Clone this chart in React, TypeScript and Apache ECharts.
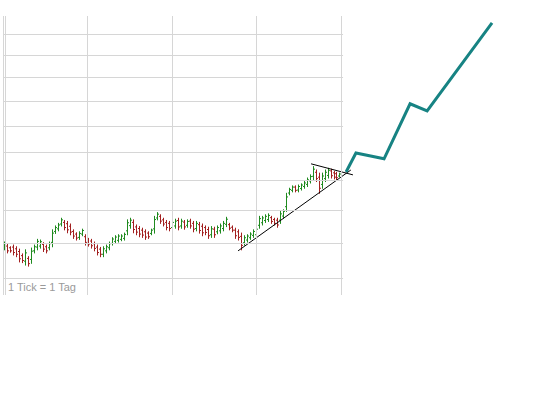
import React, { useEffect, useRef } from "react";
import * as echarts from "echarts";

// OHLC bars, one per day (1 Tick = 1 Tag)
const highs = [
  13.03, 12.96, 12.89, 12.94, 12.89, 12.82, 12.68, 12.8, 12.6, 12.85,
  12.94, 13.11, 13.09, 13.01, 12.94, 13.03, 13.4, 13.52, 13.6, 13.76,
  13.69, 13.66, 13.58, 13.4, 13.31, 13.34, 13.42, 13.25, 13.14, 13.11,
  13.03, 12.94, 12.87, 12.89, 12.94, 13.03, 13.16, 13.22, 13.25, 13.25,
  13.3, 13.71, 13.76, 13.71, 13.55, 13.5, 13.45, 13.4, 13.34, 13.42,
  13.82, 13.94, 13.87, 13.76, 13.69, 13.66, 13.69, 13.73, 13.76, 13.73,
  13.69, 13.71, 13.73, 13.66, 13.66, 13.63, 13.58, 13.52, 13.48, 13.5,
  13.48, 13.52, 13.58, 13.66, 13.79, 13.6, 13.52, 13.45, 13.4, 13.3,
  13.22, 13.25, 13.31, 13.4, 13.48, 13.82, 13.82, 13.87, 13.9, 13.82,
  13.76, 13.76, 13.98, 14.03, 14.57, 14.74, 14.82, 14.82, 14.85, 14.89,
  14.97, 15.09, 15.2, 15.49, 15.37, 15.26, 15.26, 15.37, 15.43, 15.4,
  15.32, 15.29, 15.26,
];
const lows = [
  12.8, 12.71, 12.73, 12.65, 12.6, 12.45, 12.43, 12.36, 12.33, 12.41,
  12.71, 12.8, 12.85, 12.75, 12.71, 12.8, 12.89, 13.29, 13.37, 13.52,
  13.4, 13.31, 13.25, 13.14, 13.09, 13.11, 13.22, 12.94, 12.91, 12.85,
  12.77, 12.65, 12.6, 12.6, 12.71, 12.8, 12.94, 13.0, 13.03, 13.07,
  13.09, 13.25, 13.45, 13.31, 13.25, 13.19, 13.17, 13.11, 13.14, 13.25,
  13.3, 13.71, 13.6, 13.52, 13.4, 13.37, 13.4, 13.45, 13.4, 13.45,
  13.42, 13.48, 13.45, 13.34, 13.37, 13.3, 13.22, 13.25, 13.14, 13.17,
  13.17, 13.28, 13.3, 13.37, 13.5, 13.4, 13.34, 13.14, 13.09, 12.8,
  12.94, 13.03, 13.11, 13.17, 13.17, 13.45, 13.55, 13.63, 13.66, 13.6,
  13.55, 13.48, 13.6, 13.76, 13.98, 14.52, 14.62, 14.62, 14.62, 14.68,
  14.74, 14.8, 14.92, 15.03, 14.97, 14.57, 14.74, 14.97, 15.09, 15.09,
  15.06, 15.03, 15.13,
];
const opens = [
  12.86, 12.91, 12.86, 12.88, 12.83, 12.75, 12.63, 12.47, 12.55, 12.52,
  12.77, 12.88, 12.91, 12.96, 12.89, 12.86, 13.02, 13.35, 13.43, 13.58,
  13.63, 13.59, 13.51, 13.35, 13.27, 13.17, 13.27, 13.19, 13.09, 13.06,
  12.98, 12.88, 12.82, 12.67, 12.77, 12.86, 12.99, 13.05, 13.08, 13.11,
  13.14, 13.37, 13.53, 13.63, 13.49, 13.44, 13.39, 13.34, 13.3, 13.29,
  13.43, 13.77, 13.82, 13.71, 13.63, 13.6, 13.47, 13.52, 13.69, 13.52,
  13.64, 13.54, 13.67, 13.6, 13.44, 13.56, 13.51, 13.47, 13.41, 13.25,
  13.42, 13.34, 13.37, 13.44, 13.57, 13.56, 13.48, 13.39, 13.34, 13.2,
  13.01, 13.09, 13.16, 13.23, 13.25, 13.54, 13.62, 13.69, 13.72, 13.78,
  13.72, 13.7, 13.7, 13.83, 14.13, 14.58, 14.67, 14.78, 14.68, 14.73,
  14.8, 14.87, 14.99, 15.15, 15.29, 15.12, 14.87, 15.07, 15.18, 15.34,
  15.27, 15.24, 15.16,
];
const closes = [
  12.98, 12.77, 12.77, 12.72, 12.67, 12.54, 12.49, 12.71, 12.4, 12.76,
  12.89, 13.05, 13.04, 12.82, 12.77, 12.98, 13.3, 13.47, 13.55, 13.71,
  13.47, 13.4, 13.33, 13.21, 13.15, 13.29, 13.38, 13.02, 12.97, 12.92,
  12.84, 12.72, 12.67, 12.83, 12.89, 12.98, 13.12, 13.18, 13.21, 13.21,
  13.26, 13.62, 13.7, 13.41, 13.33, 13.27, 13.24, 13.18, 13.19, 13.39,
  13.72, 13.89, 13.67, 13.58, 13.47, 13.44, 13.63, 13.67, 13.49, 13.67,
  13.49, 13.66, 13.52, 13.42, 13.6, 13.38, 13.31, 13.32, 13.22, 13.43,
  13.25, 13.47, 13.52, 13.6, 13.73, 13.45, 13.39, 13.22, 13.17, 12.93,
  13.16, 13.21, 13.27, 13.35, 13.42, 13.75, 13.77, 13.82, 13.85, 13.66,
  13.6, 13.55, 13.9, 13.98, 14.45, 14.7, 14.78, 14.67, 14.8, 14.85,
  14.92, 15.03, 15.14, 15.4, 15.07, 14.74, 15.16, 15.29, 15.36, 15.17,
  15.12, 15.1, 15.23,
];

// projected path (teal) — x in day units, price
const projDays = [114.7, 118.0, 127.4, 136.1, 141.8, 163.5];
const projPrices = [15.3, 15.98, 15.77, 17.89, 17.6, 21.54];

// triangle trend lines
const upperDays = [103.0, 117.0];
const upperPrices = [15.59, 15.2];
const lowerDays = [78.6, 116.3];
const lowerPrices = [12.77, 15.37];

// grid lines (price levels, log scale) and day ticks
const priceTicks = [12, 13, 14, 15, 16, 17, 18, 19, 20, 21];
const dayTicks = [0, 0.67, 28.25, 56.5, 84.75, 113];

const Y_MIN = Math.log(11.54);
const Y_MAX = Math.log(21.88);

export default function App() {
  const ref = useRef<HTMLDivElement>(null);
  useEffect(() => {
    if (!ref.current) return;
    const chart = echarts.init(ref.current, undefined, { renderer: "svg" });
    const green = "#1f8a1f";
    const red = "#a32020";
    const bars = opens.map((o, i) => [
      i + 0.5,
      Math.log(o),
      Math.log(highs[i]),
      Math.log(lows[i]),
      Math.log(closes[i]),
    ]);
    const gridColor = "#d6d6d6";
    const hLines = priceTicks.map((t) => [
      { coord: [0, Math.log(t)] },
      { coord: [113.7, Math.log(t)] },
    ]);
    const vLines = dayTicks.map((d) => [
      { coord: [d, Y_MAX] },
      { coord: [d, Y_MIN] },
    ]);
    chart.setOption({
      animation: false,
      grid: { left: 3, right: 3.62, top: 16, bottom: 103, containLabel: false },
      xAxis: {
        type: "value",
        min: 0,
        max: 180,
        show: false,
        splitLine: { show: false },
      },
      yAxis: {
        type: "value",
        min: Y_MIN,
        max: Y_MAX,
        show: false,
        splitLine: { show: false },
      },
      series: [
        {
          type: "line",
          data: [],
          z: 1,
          silent: true,
          markLine: {
            silent: true,
            symbol: ["none", "none"],
            label: { show: false },
            lineStyle: { color: gridColor, width: 1, type: "solid" },
            data: [...hLines, ...vLines],
          },
        },
        {
          type: "custom",
          z: 3,
          silent: true,
          encode: { x: 0, y: [1, 2, 3, 4] },
          data: bars,
          renderItem: (params: any, api: any) => {
            const u = api.value(0);
            const o = api.coord([u, api.value(1)]);
            const h = api.coord([u, api.value(2)]);
            const l = api.coord([u, api.value(3)]);
            const c = api.coord([u, api.value(4)]);
            const x = Math.round(o[0]) + 0.5;
            const color = api.value(4) >= api.value(1) ? green : red;
            const st = { stroke: color, lineWidth: 1 };
            return {
              type: "group",
              children: [
                { type: "line", shape: { x1: x, y1: h[1] - 0.5, x2: x, y2: l[1] + 0.5 }, style: st },
                { type: "line", shape: { x1: x - 1.5, y1: o[1], x2: x, y2: o[1] }, style: st },
                { type: "line", shape: { x1: x, y1: c[1], x2: x + 1.5, y2: c[1] }, style: st },
              ],
            };
          },
        },
        {
          type: "line",
          z: 4,
          silent: true,
          symbol: "none",
          lineStyle: { color: "#000", width: 1 },
          data: upperDays.map((d, i) => [d, Math.log(upperPrices[i])]),
        },
        {
          type: "line",
          z: 4,
          silent: true,
          symbol: "none",
          lineStyle: { color: "#000", width: 1 },
          data: lowerDays.map((d, i) => [d, Math.log(lowerPrices[i])]),
        },
        {
          type: "line",
          z: 5,
          silent: true,
          symbol: "none",
          lineStyle: { color: "#178383", width: 3, join: "miter" },
          data: projDays.map((d, i) => [d, Math.log(projPrices[i])]),
        },
      ],
      graphic: [
        {
          type: "text",
          left: 8,
          top: 281,
          style: {
            text: "1 Tick = 1 Tag",
            fontSize: 11,
            fontFamily: "Liberation Sans, Arial, sans-serif",
            fill: "#9a9a9a",
          },
        },
      ],
    });
    return () => chart.dispose();
  }, []);
  return (
    <div
      ref={ref}
      style={{ position: "absolute", left: 0, top: 0, width: 545, height: 398, background: "#fff" }}
    />
  );
}
